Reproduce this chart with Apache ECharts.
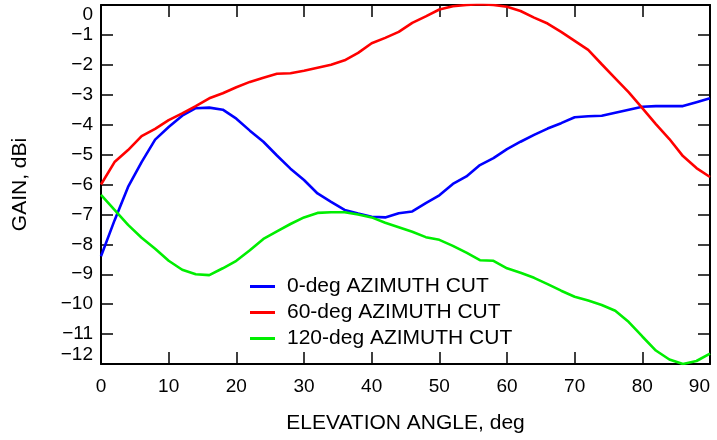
<!DOCTYPE html>
<html>
<head>
<meta charset="utf-8">
<script src="https://cdn.jsdelivr.net/npm/echarts@6/dist/echarts.min.js"></script>
<style>
  html, body { margin: 0; padding: 0; background: #fff; }
  #chart { width: 717px; height: 440px; }
</style>
</head>
<body>
<div id="chart"></div>
<script>
// Elevation angles (deg) at which each azimuth cut is sampled
const elevation = [
  0, 2, 4, 6, 8, 10, 12, 14, 16, 18, 20, 22, 24, 26, 28, 30,
  32, 34, 36, 38, 40, 42, 44, 46, 48, 50, 52, 54, 56, 58, 60,
  62, 64, 66, 68, 70, 72, 74, 76, 78, 80, 82, 84, 86, 88, 90
];

// Gain (dBi) for the 0-deg azimuth cut
const gain0 = [
  -8.4, -7.2, -6.08, -5.25, -4.5, -4.08, -3.7, -3.45, -3.43, -3.5, -3.8, -4.2, -4.57, -5.03, -5.47, -5.85,
  -6.3, -6.58, -6.85, -6.97, -7.08, -7.1, -6.96, -6.9, -6.62, -6.36, -5.98, -5.73, -5.35, -5.12, -4.82,
  -4.57, -4.34, -4.13, -3.95, -3.75, -3.72, -3.7, -3.6, -3.5, -3.4, -3.38, -3.38, -3.38, -3.25, -3.12
];

// Gain (dBi) for the 60-deg azimuth cut
const gain60 = [
  -6.0, -5.25, -4.85, -4.38, -4.14, -3.85, -3.62, -3.38, -3.12, -2.95, -2.75, -2.57, -2.43, -2.3, -2.28, -2.2,
  -2.1, -2.0, -1.85, -1.6, -1.28, -1.1, -0.9, -0.6, -0.38, -0.15, -0.04, 0.0, 0.03, 0.0, -0.06,
  -0.2, -0.42, -0.62, -0.9, -1.2, -1.5, -1.98, -2.45, -2.92, -3.45, -3.98, -4.48, -5.05, -5.45, -5.75
];

// Gain (dBi) for the 120-deg azimuth cut
const gain120 = [
  -6.35, -6.85, -7.35, -7.78, -8.15, -8.55, -8.85, -9.0, -9.03, -8.8, -8.55, -8.2, -7.82, -7.57, -7.32, -7.1,
  -6.95, -6.93, -6.93, -7.0, -7.1, -7.28, -7.43, -7.58, -7.76, -7.85, -8.05, -8.28, -8.53, -8.55, -8.8,
  -8.95, -9.12, -9.33, -9.55, -9.75, -9.88, -10.03, -10.22, -10.6, -11.08, -11.55, -11.85, -12.0, -11.9, -11.65
];

const seriesNames = ['0-deg AZIMUTH CUT', '60-deg AZIMUTH CUT', '120-deg AZIMUTH CUT'];
const seriesGains = [gain0, gain60, gain120];
const seriesColors = ['#0000ff', '#ff0000', '#00ee00'];

const FONT = '"Liberation Sans", Arial, Helvetica, sans-serif';
const minus = v => (v < 0 ? '\u2212' + Math.abs(v) : String(v));

const tickStyle = { inside: true, length: 12, lineStyle: { color: '#000', width: 1.5 } };
const lineStyle = { onZero: false, lineStyle: { color: '#000', width: 2 } };

const chart = echarts.init(document.getElementById('chart'), null, { renderer: 'canvas' });

chart.setOption({
  animation: false,
  backgroundColor: '#fff',
  textStyle: { fontFamily: FONT, color: '#000' },
  grid: { left: 101, right: 7, top: 5, bottom: 76 },
  legend: {
    orient: 'vertical',
    left: 245,
    top: 270,
    icon: 'rect',
    itemWidth: 25,
    itemHeight: 3,
    itemGap: 3,
    textStyle: { fontFamily: FONT, fontSize: 21, color: '#000', lineHeight: 23, padding: [0, 0, 0, 7] },
    data: seriesNames
  },
  xAxis: [
    {
      type: 'value', min: 0, max: 90, interval: 10,
      name: 'ELEVATION ANGLE, deg', nameLocation: 'middle', nameGap: 49,
      nameTextStyle: { fontFamily: FONT, fontSize: 21, color: '#000' },
      axisLine: lineStyle, axisTick: tickStyle, splitLine: { show: false },
      axisLabel: { fontFamily: FONT, fontSize: 19, color: '#000', margin: 13, alignMaxLabel: 'right' }
    },
    {
      type: 'value', min: 0, max: 90, interval: 10, position: 'top',
      axisLine: lineStyle, axisTick: tickStyle, splitLine: { show: false },
      axisLabel: { show: false }
    }
  ],
  yAxis: [
    {
      type: 'value', min: -12, max: 0, interval: 1, position: 'left',
      name: 'GAIN, dBi', nameLocation: 'middle', nameGap: 70, nameRotate: 90,
      nameTextStyle: { fontFamily: FONT, fontSize: 21, color: '#000' },
      axisLine: lineStyle, axisTick: tickStyle, splitLine: { show: false },
      axisLabel: {
        fontFamily: FONT, fontSize: 19, color: '#000', margin: 8, formatter: minus,
        verticalAlignMaxLabel: 'top', verticalAlignMinLabel: 'bottom'
      }
    },
    {
      type: 'value', min: -12, max: 0, interval: 1, position: 'right',
      axisLine: lineStyle, axisTick: tickStyle, splitLine: { show: false },
      axisLabel: { show: false }
    }
  ],
  series: seriesNames.map((name, i) => ({
    name,
    type: 'line',
    xAxisIndex: 0,
    yAxisIndex: 0,
    showSymbol: false,
    clip: true,
    color: seriesColors[i],
    lineStyle: { color: seriesColors[i], width: 2.6 },
    data: elevation.map((e, k) => [e, seriesGains[i][k]])
  }))
});
</script>
</body>
</html>
